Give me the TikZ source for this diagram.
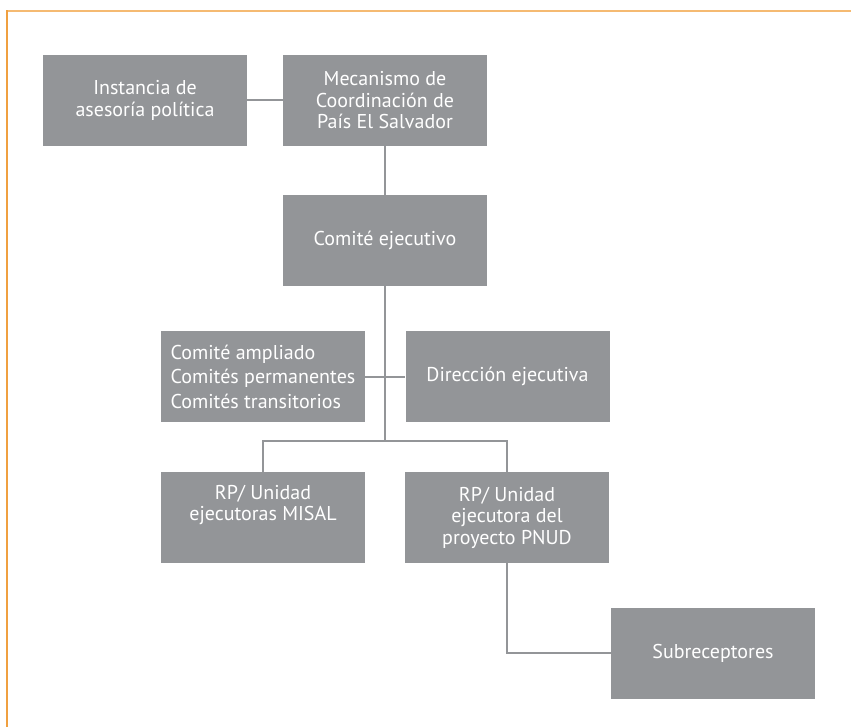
\documentclass[tikz,border=0pt]{standalone}
\usepackage{fontspec}
\setmainfont{PT Sans}
\usetikzlibrary{positioning}
\definecolor{boxgray}{HTML}{939598}
\definecolor{frametop}{HTML}{F5BA72}
\definecolor{frameleft}{HTML}{F0A040}

\begin{document}
\begin{tikzpicture}[x=1pt, y=-1pt,
  box/.style={fill=boxgray, text=white, minimum width=204pt, minimum height=91pt, inner sep=0pt, align=center, font=\fontsize{20}{21.5}\selectfont},
  link/.style={draw=boxgray, line width=2pt}]
  \useasboundingbox (0,0) rectangle (851,727);
  \draw[frametop, line width=1.5pt] (7,11) -- (851,11);
  \draw[frameleft, line width=1.5pt] (7,10.25) -- (7,727);
  \node[box] (inst) at (145,100.5) {Instancia de\\asesoría política};
  \node[box] (mec) at (385,100.5) {Mecanismo de\\Coordinación de\\País El Salvador};
  \node[box] (ce) at (385,240.5) {Comité ejecutivo};
  \node[box, align=left, font=\fontsize{20}{24.5}\selectfont] (amp) at (263,376.5) {Comité ampliado\\Comités permanentes\\Comités transitorios};
  \node[box] (dir) at (507.5,376.5) {Dirección ejecutiva};
  \node[box] (misal) at (263,517.5) {RP/ Unidad\\ejecutoras MISAL\\[8pt]};
  \node[box] (pnud) at (507,517.5) {RP/ Unidad\\ejecutora del\\proyecto PNUD};
  \node[box] (sub) at (713,653) {Subreceptores};
  \coordinate (hub) at (385,441);
  \draw[link] (inst) -- (mec);
  \draw[link] (mec) -- (ce);
  \draw[link] (ce) -- (hub);
  \draw[link] (amp) -- (dir);
  \draw[link] (misal) |- (hub) -| (pnud);
  \draw[link] (pnud) |- (sub);
\end{tikzpicture}
\end{document}
